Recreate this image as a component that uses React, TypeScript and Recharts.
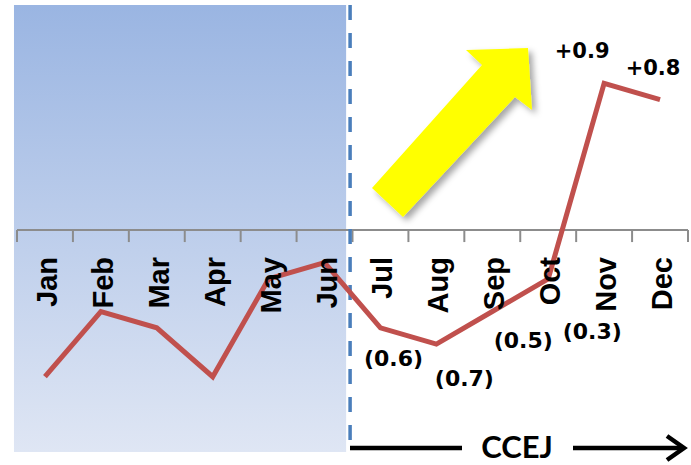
import { LineChart, Line, XAxis, YAxis, ReferenceLine, ReferenceArea, LabelList } from "recharts";

// Monthly change, Jan–Dec (negative values shown in parentheses)
const MONTHS = ["Jan", "Feb", "Mar", "Apr", "May", "Jun", "Jul", "Aug", "Sep", "Oct", "Nov", "Dec"];
const VALUES = [-0.9, -0.5, -0.6, -0.9, -0.3, -0.2, -0.6, -0.7, -0.5, -0.3, 0.9, 0.8];

// first month of the CCEJ period; values are labelled from here on
const CCEJ_START = 6;

// label nudges (px) so the numbers sit clear of the line
const LABEL_OFFSETS: Record<string, [number, number]> = {
  Jul: [13, 30],
  Aug: [28, 34],
  Sep: [31, 28],
  Oct: [44, 52],
  Nov: [-22, -33],
  Dec: [-7, -33],
};

const Y_DOMAIN: [number, number] = [-1.38, 1.38];
const TICK_LEN = 0.074;
const SHADE = { x1: -0.554, x2: 5.386, y1: -1.362, y2: 1.38 };
const DIVIDER_X = 5.457;

const data = MONTHS.map((month, i) => ({ idx: i, month, value: VALUES[i], axis: 0 }));
const boundaries = [...MONTHS.map((_, i) => i - 0.5), MONTHS.length - 0.5];

const fmt = (v: number) => (v < 0 ? `(${Math.abs(v).toFixed(1)})` : `+${v.toFixed(1)}`);

const MonthLabel = (props: any) => {
  const { x, y, value } = props;
  return (
    <text
      transform={`translate(${x + 12}, ${y + 27}) rotate(-90)`}
      textAnchor="end"
      fontFamily="'Liberation Sans', Arial, sans-serif"
      fontWeight="bold"
      fontSize={29}
      fill="#000"
    >
      {value}
    </text>
  );
};

const ValueLabel = (props: any) => {
  const { x, y, value, index } = props;
  if (index < CCEJ_START) return null;
  const [dx, dy] = LABEL_OFFSETS[MONTHS[index]] ?? [0, 0];
  return (
    <text
      x={x + dx}
      y={y + dy + 8}
      textAnchor="middle"
      fontFamily="'DejaVu Sans', sans-serif"
      fontWeight="bold"
      fontSize={value < 0 ? 22 : 21}
      fill="#000"
    >
      {fmt(value)}
    </text>
  );
};

export default function App() {
  return (
    <div style={{ position: "absolute", left: 0, top: 0, width: 691, height: 465, background: "#fff" }}>
      <LineChart width={691} height={465} data={data} margin={{ top: 5, right: 3, left: 17, bottom: 10 }}>
        <defs>
          <linearGradient id="firstHalfShade" x1="0" y1="0" x2="0" y2="1">
            <stop offset="0%" stopColor="#9ab5e2" />
            <stop offset="100%" stopColor="#dfe6f4" />
          </linearGradient>
        </defs>
        <XAxis type="number" dataKey="idx" domain={[-0.5, 11.5]} hide />
        <YAxis type="number" domain={Y_DOMAIN} hide />
        <ReferenceArea
          x1={SHADE.x1}
          x2={SHADE.x2}
          y1={SHADE.y1}
          y2={SHADE.y2}
          fill="url(#firstHalfShade)"
          fillOpacity={1}
          stroke="none"
          ifOverflow="visible"
        />
        <ReferenceLine y={0} stroke="#8c8c8c" strokeWidth={2} />
        {boundaries.map((b) => (
          <ReferenceLine
            key={b}
            segment={[
              { x: b, y: 0 },
              { x: b, y: -TICK_LEN },
            ]}
            stroke="#8c8c8c"
            strokeWidth={2}
          />
        ))}
        <ReferenceLine
          segment={[
            { x: DIVIDER_X, y: Y_DOMAIN[1] },
            { x: DIVIDER_X, y: -1.35 },
          ]}
          stroke="#4a7ebb"
          strokeWidth={3.5}
          strokeDasharray="15 13"
        />
        <Line dataKey="axis" stroke="none" dot={false} isAnimationActive={false}>
          <LabelList dataKey="month" content={MonthLabel} />
        </Line>
        <Line
          type="linear"
          dataKey="value"
          stroke="#c0504d"
          strokeWidth={5}
          dot={false}
          isAnimationActive={false}
        >
          <LabelList dataKey="value" content={ValueLabel} />
        </Line>
      </LineChart>
      <svg
        width={691}
        height={465}
        style={{ position: "absolute", left: 0, top: 0, pointerEvents: "none" }}
      >
        <defs>
          <filter id="arrowShadow" x="-20%" y="-20%" width="150%" height="150%">
            <feDropShadow dx={4} dy={4} stdDeviation={3} floodColor="#000" floodOpacity={0.35} />
          </filter>
        </defs>
        {/* upward trend arrow */}
        <polygon
          points="372,188 482,65 466,50 528,48 532,110 515,97 403,217"
          fill="#ffff00"
          filter="url(#arrowShadow)"
        />
        {/* CCEJ period bracket */}
        <g stroke="#000" strokeWidth={4.5} fill="none">
          <line x1={350} y1={448} x2={462} y2={448} />
          <line x1={573} y1={448} x2={682} y2={448} />
          <polyline points="667,436 684,448 667,460" strokeLinejoin="miter" />
        </g>
        <text
          x={517}
          y={458}
          textAnchor="middle"
          fontFamily="Lato, 'Open Sans', sans-serif"
          fontWeight="bold"
          fontSize={31}
          fill="#000"
        >
          CCEJ
        </text>
      </svg>
    </div>
  );
}
